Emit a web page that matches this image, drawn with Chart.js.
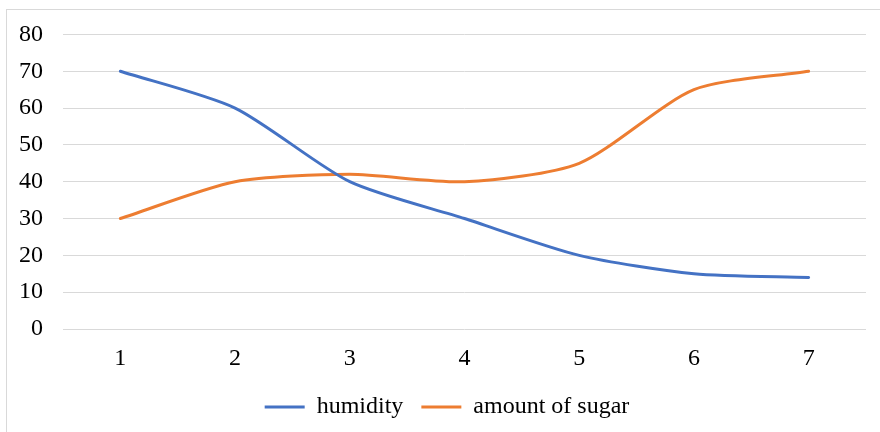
<!DOCTYPE html>
<html>
<head>
<meta charset="utf-8">
<script src="https://cdn.jsdelivr.net/npm/chart.js@4"></script>
<style>
    html, body { margin: 0; padding: 0; background: #fff; }
    #wrap { width: 880px; height: 432px; position: relative; }
</style>
</head>
<body>
<div id="wrap"><canvas id="chart" width="880" height="432"></canvas></div>
<script>
// 데이터
const categories = ['1', '2', '3', '4', '5', '6', '7'];
const humidity = [70, 60, 40, 30, 20, 15, 14];
const sugar = [30, 40, 42, 40, 45, 65, 70];
const yTicks = [0, 10, 20, 30, 40, 50, 60, 70, 80];

const fontFamily = '"Liberation Serif", "Times New Roman", serif';

// 외곽 테두리
const frame = {
    id: 'frame',
    beforeDraw(chart) {
        const ctx = chart.ctx;
        ctx.save();
        ctx.strokeStyle = '#d9d9d9';
        ctx.lineWidth = 1;
        ctx.strokeRect(6.5, 9.5, 900, 460);
        ctx.restore();
    }
};

// 범례 위치 보정
const legendShift = {
    id: 'legendShift',
    afterLayout(chart) {
        const lg = chart.legend;
        if (!lg) return;
        lg.left += 14;
        lg.right += 14;
        lg.top -= 3;
        lg.bottom -= 3;
    }
};

new Chart(document.getElementById('chart'), {
    type: 'line',
    data: {
        labels: categories,
        datasets: [{
            label: 'humidity',
            data: humidity,
            borderColor: '#4472C4',
            backgroundColor: '#4472C4',
            borderWidth: 3,
            borderCapStyle: 'round',
            pointRadius: 0,
            tension: 0.25
        }, {
            label: 'amount of sugar',
            data: sugar,
            borderColor: '#ED7D31',
            backgroundColor: '#ED7D31',
            borderWidth: 3,
            borderCapStyle: 'round',
            pointRadius: 0,
            tension: 0.25
        }]
    },
    options: {
        responsive: false,
        animation: false,
        layout: {
            padding: { top: 33, right: 14, left: 0, bottom: 0 }
        },
        plugins: {
            legend: {
                position: 'bottom',
                labels: {
                    color: '#000',
                    font: { family: fontFamily, size: 24 },
                    boxWidth: 40,
                    boxHeight: 3,
                    padding: 18,
                    generateLabels(chart) {
                        return Chart.defaults.plugins.legend.labels.generateLabels(chart)
                            .map(item => Object.assign(item, { lineWidth: 0 }));
                    }
                }
            },
            tooltip: { enabled: false }
        },
        scales: {
            x: {
                offset: true,
                grid: { display: false, drawTicks: false },
                border: { display: false },
                ticks: {
                    color: '#000',
                    font: { family: fontFamily, size: 24 },
                    padding: 15,
                    maxRotation: 0
                },
                afterFit(scale) { scale.height = 51; }
            },
            y: {
                min: 0,
                max: 80,
                afterBuildTicks(scale) {
                    scale.ticks = yTicks.map(v => ({ value: v }));
                },
                grid: { color: '#d9d9d9', lineWidth: 1, drawTicks: false },
                border: { display: false },
                ticks: {
                    color: '#000',
                    font: { family: fontFamily, size: 24 },
                    padding: 20
                },
                afterFit(scale) { scale.width = 63; }
            }
        }
    },
    plugins: [frame, legendShift]
});
</script>
</body>
</html>
